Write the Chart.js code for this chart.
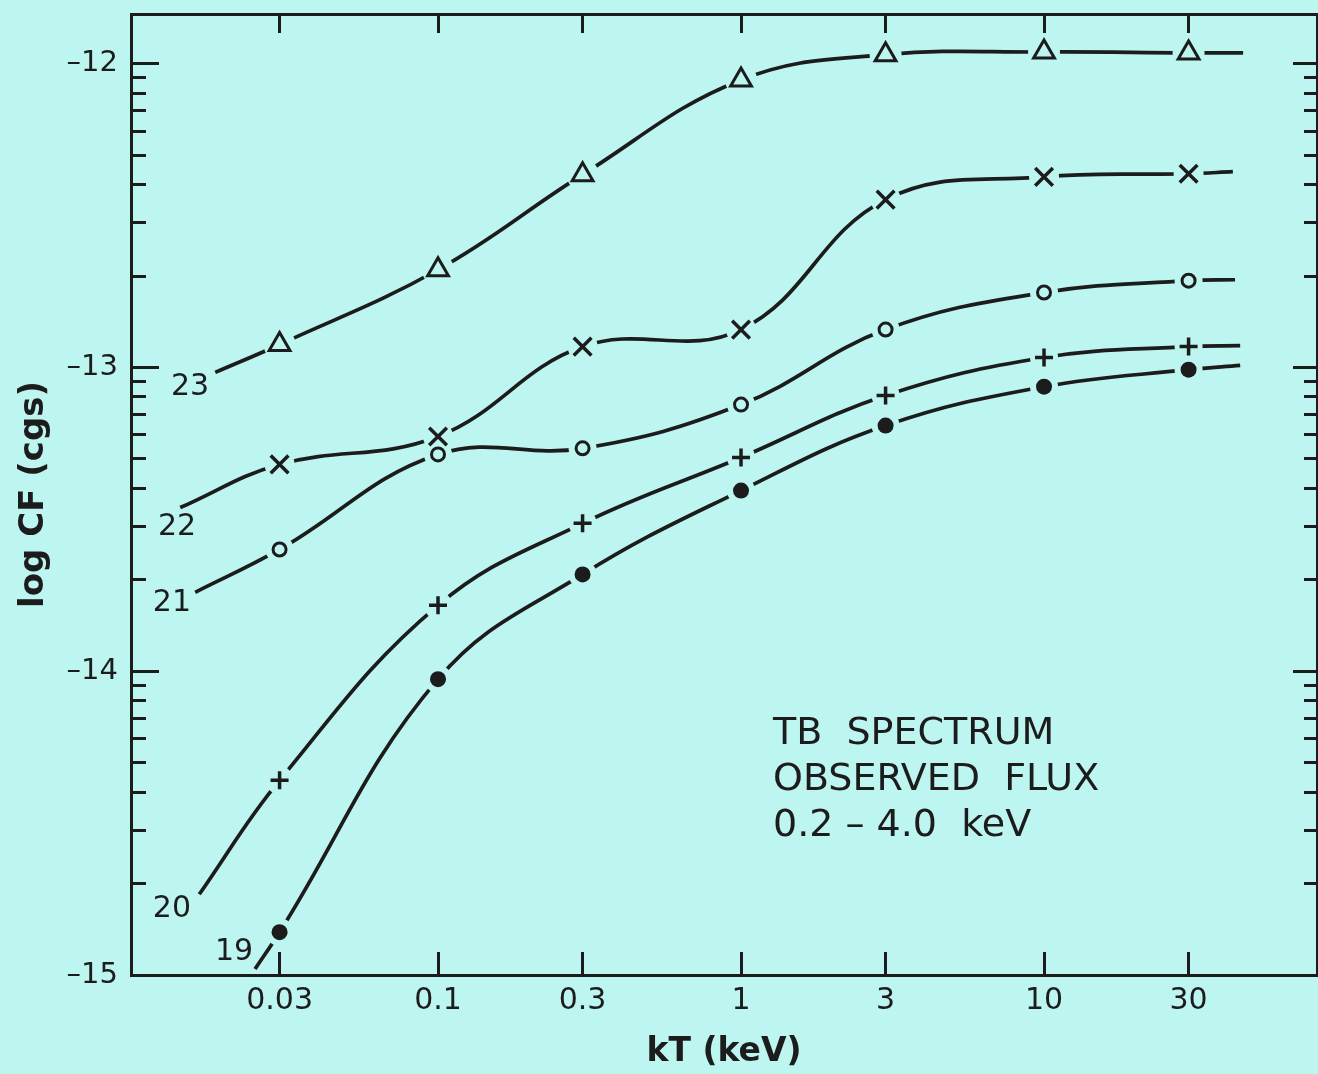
<!DOCTYPE html>
<html>
<head>
<meta charset="utf-8">
<title>TB spectrum observed flux</title>
<script src="https://cdn.jsdelivr.net/npm/chart.js@4.4.1/dist/chart.umd.min.js"></script>
<style>
  html, body { margin: 0; padding: 0; background: #bdf5f0; overflow: hidden; }
  canvas { display: block; }
</style>
</head>
<body>
<canvas id="chart" width="1318" height="1074"></canvas>
<script>
// kT grid where the markers sit
const kT = [0.03, 0.1, 0.3, 1, 3, 10, 30];
const kTLabels = ['0.03', '0.1', '0.3', '1', '3', '10', '30'];
const logTicks = [-15, -14, -13, -12];
const logTickLabels = ['–15', '–14', '–13', '–12'];

// log CF at each kT, one array per curve (curve names 19..23)
const curveNames = ['19', '20', '21', '22', '23'];
const curve19 = [-14.859, -14.026, -13.681, -13.405, -13.191, -13.063, -13.007];
const curve20 = [-14.359, -13.783, -13.513, -13.296, -13.092, -12.967, -12.931];
const curve21 = [-13.599, -13.286, -13.266, -13.122, -12.875, -12.753, -12.714];
const curve22 = [-13.319, -13.227, -12.931, -12.875, -12.447, -12.372, -12.362];
const curve23 = [-12.924, -12.678, -12.365, -12.053, -11.970, -11.961, -11.964];

// where each drawn curve starts and ends (beyond the marked points)
const startKT  = [0.0249, 0.0163, 0.0158, 0.0141, 0.0184];
const startLog = [-14.980, -14.734, -13.740, -13.461, -13.016];
const endKT    = [44.4, 44.4, 42.7, 42.0, 45.4];
const endLog   = [-12.993, -12.928, -12.711, -12.355, -11.964];

const ink = '#1c1c1c';
const paper = '#bdf5f0';
const curves = [curve19, curve20, curve21, curve22, curve23];

// minor ticks: log of 2..9 times each decade
const minorTicks = [];
logTicks.forEach(d => {
  for (let k = 2; k <= 9; k++) {
    const v = d + Math.log10(k);
    if (v < -11.836) minorTicks.push(v);
  }
});

const markers = [
  { pointStyle: 'circle',   radius: 8,    fill: ink,   width: 0,   halo: 14 },
  { pointStyle: 'cross',    radius: 9,    fill: ink,   width: 3.5, halo: 14 },
  { pointStyle: 'circle',   radius: 6.5,  fill: paper, width: 3,   halo: 14 },
  { pointStyle: 'crossRot', radius: 12.5, fill: ink,   width: 3.5, halo: 15 },
  { pointStyle: 'triangle', radius: 12,   fill: paper, width: 3,   halo: 16 }
];

const datasets = [];
curves.forEach((vals, i) => {
  const pts = kT.map((k, j) => ({ x: k, y: vals[j] }));
  datasets.push({
    label: curveNames[i],
    data: [{ x: startKT[i], y: startLog[i] }, ...pts, { x: endKT[i], y: endLog[i] }],
    borderColor: ink,
    borderWidth: 3.7,
    tension: 0.4,
    pointRadius: 0,
    fill: false,
    order: 3
  });
  datasets.push({
    label: curveNames[i] + ' gap',
    data: pts,
    showLine: false,
    pointStyle: 'circle',
    pointRadius: markers[i].halo,
    pointBackgroundColor: paper,
    pointBorderWidth: 0,
    order: 2
  });
  datasets.push({
    label: curveNames[i] + ' marks',
    data: pts,
    showLine: false,
    pointStyle: markers[i].pointStyle,
    pointRadius: markers[i].radius,
    pointBackgroundColor: markers[i].fill,
    pointBorderColor: ink,
    pointBorderWidth: markers[i].width,
    order: 1
  });
});

const setTicks = list => scale => { scale.ticks = list.map(v => ({ value: v })); };
const fitBox = (w, h) => scale => {
  if (w !== null) scale.width = w;
  if (h !== null) scale.height = h;
  scale.paddingTop = scale.paddingBottom = scale.paddingLeft = scale.paddingRight = 0;
};

const xRange = { min: 0.0097, max: 79.6 };
const yRange = { min: -15, max: -11.836 };

const tickGrid = len => ({
  drawOnChartArea: false, drawTicks: true, tickLength: len, lineWidth: 3, color: ink
});

const notes = {
  id: 'notes',
  afterDraw(chart) {
    const { ctx, scales } = chart;
    const x = scales.x, y = scales.y;
    ctx.save();
    ctx.fillStyle = ink;
    ctx.textAlign = 'center';
    ctx.textBaseline = 'middle';
    ctx.font = '30px "DejaVu Sans"';
    const spots = [[0.02122, -14.924], [0.01324, -14.783], [0.01324, -13.776], [0.01376, -13.526], [0.0152, -13.066]];
    curveNames.forEach((n, i) => {
      ctx.fillText(n, x.getPixelForValue(spots[i][0]), y.getPixelForValue(spots[i][1]));
    });
    ctx.textAlign = 'left';
    ctx.font = '38px "DejaVu Sans"';
    ['TB  SPECTRUM', 'OBSERVED  FLUX', '0.2 – 4.0  keV'].forEach((t, i) => {
      ctx.fillText(t, 773, 734 + i * 46);
    });
    ctx.restore();
  }
};

new Chart(document.getElementById('chart'), {
  type: 'line',
  data: { datasets },
  options: {
    responsive: false,
    animation: false,
    layout: { autoPadding: false, padding: { top: 14, right: 1, bottom: 0, left: 0 } },
    plugins: { legend: { display: false }, tooltip: { enabled: false } },
    scales: {
      x: {
        type: 'logarithmic', position: 'bottom', ...xRange,
        afterBuildTicks: setTicks(kT), afterFit: fitBox(null, 99),
        grid: tickGrid(-23),
        border: { display: true, width: 3, color: ink },
        ticks: {
          autoSkip: false, padding: 31, color: ink,
          font: { family: 'DejaVu Sans', size: 30 },
          callback: v => kTLabels[kT.indexOf(v)]
        },
        title: {
          display: true, text: 'kT (keV)', color: ink,
          font: { family: 'DejaVu Sans', size: 33, weight: 'bold' },
          padding: { top: 0, bottom: 2 }
        }
      },
      xTop: {
        type: 'logarithmic', position: 'top', ...xRange,
        afterBuildTicks: setTicks(kT), afterFit: fitBox(null, 0),
        grid: tickGrid(-19),
        border: { display: true, width: 3, color: ink },
        ticks: { display: false }
      },
      y: {
        type: 'linear', position: 'left', weight: 1, ...yRange,
        afterBuildTicks: setTicks(logTicks), afterFit: fitBox(131, null),
        grid: tickGrid(-28),
        border: { display: true, width: 3, color: ink },
        ticks: {
          autoSkip: false, padding: 41, color: ink,
          font: { family: 'DejaVu Sans', size: 29 },
          callback: v => logTickLabels[logTicks.indexOf(v)]
        },
        title: {
          display: true, text: 'log CF (cgs)', color: ink,
          font: { family: 'DejaVu Sans', size: 34, weight: 'bold' },
          padding: { top: 14, bottom: 0 }
        }
      },
      yMinor: {
        type: 'linear', position: 'left', weight: 0, ...yRange,
        afterBuildTicks: setTicks(minorTicks), afterFit: fitBox(0, null),
        grid: tickGrid(-15),
        border: { display: false },
        ticks: { display: false }
      },
      yRight: {
        type: 'linear', position: 'right', weight: 1, ...yRange,
        afterBuildTicks: setTicks(logTicks), afterFit: fitBox(0, null),
        grid: tickGrid(-24),
        border: { display: true, width: 3, color: ink },
        ticks: { display: false }
      },
      yRightMinor: {
        type: 'linear', position: 'right', weight: 0, ...yRange,
        afterBuildTicks: setTicks(minorTicks), afterFit: fitBox(0, null),
        grid: tickGrid(-13),
        border: { display: false },
        ticks: { display: false }
      }
    }
  },
  plugins: [notes]
});
</script>
</body>
</html>
